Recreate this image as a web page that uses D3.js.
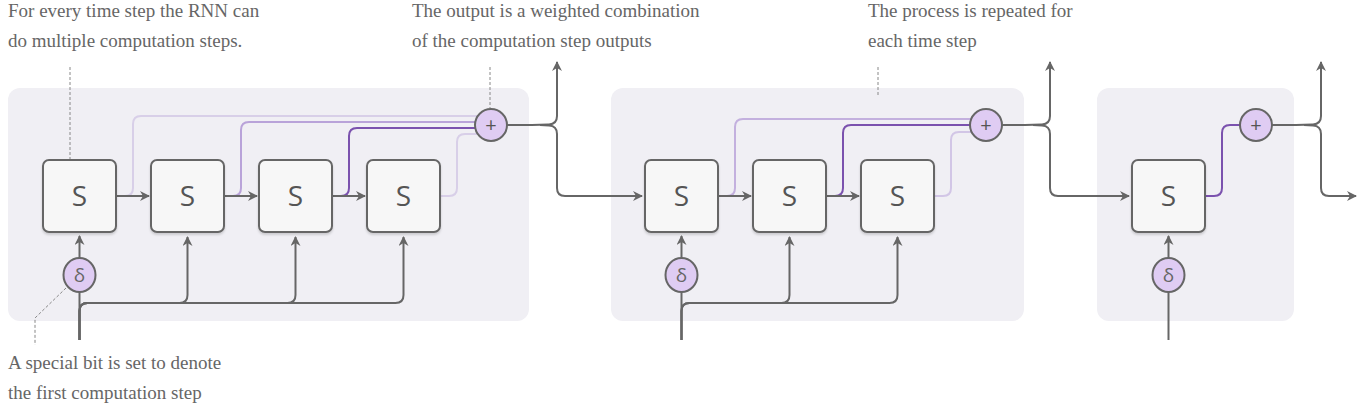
<!DOCTYPE html>
<html><head><meta charset="utf-8">
<script src="https://cdn.jsdelivr.net/npm/d3@7"></script>
<style>body{margin:0;background:#fff}text{font-family:"Liberation Serif",serif}</style>
</head><body><svg id="svg" width="1360" height="406"></svg>
<script>
// diagram data
const groupSteps = [4, 3, 1];
const groupStart = [43, 645, 1132];          // left of first S box
const groupBg = [[8, 529], [611, 1024], [1097, 1294]];
const plusX = [491, 986, 1256];
const outX = [557, 1050, 1321];
const weightCol = [["#d8cfe8", "#b9a3d9", "#7b52ae", "#d8cfe8"], ["#c3b0de", "#7b52ae", "#d2c6e6"], ["#7b52ae"]];
const weightY = [[116, 122, 128, 134], [119, 125, 132], [125]];
const notes = [
  {x: 8, lines: ["For every time step the RNN can", "do multiple computation steps."], y: 17},
  {x: 412, lines: ["The output is a weighted combination", "of the computation step outputs"], y: 17},
  {x: 868, lines: ["The process is repeated for", "each time step"], y: 17},
  {x: 8, lines: ["A special bit is set to denote", "the first computation step"], y: 369}
];

const svg = d3.select("#svg");
const grey = "#666";
const defs = svg.append("defs");
defs.append("marker").attr("id", "ar").attr("viewBox", "0 0 10 10").attr("refX", 9).attr("refY", 5)
  .attr("markerWidth", 5).attr("markerHeight", 5).attr("orient", "auto")
  .append("path").attr("d", "M0,0L10,5L0,10L3,5Z").attr("fill", grey);
const f = defs.append("filter").attr("id", "sh").attr("x", "-20%").attr("y", "-20%").attr("width", "140%").attr("height", "150%");
f.append("feDropShadow").attr("dx", 0).attr("dy", 2).attr("stdDeviation", 1).attr("flood-color", "#000").attr("flood-opacity", 0.15);

const stepX = d3.scaleLinear().domain([0, 1]).range([0, 108]);
const BW = 73, BY = 160, BH = 72, CY = 196, R = 8;

// orthogonal path with rounded corners
function rpath(pts, r = R) {
  const p = d3.path();
  p.moveTo(pts[0][0], pts[0][1]);
  for (let i = 1; i < pts.length - 1; i++) {
    const [x0, y0] = pts[i - 1], [x1, y1] = pts[i], [x2, y2] = pts[i + 1];
    const d1 = Math.hypot(x1 - x0, y1 - y0), d2 = Math.hypot(x2 - x1, y2 - y1);
    const rr = Math.min(r, d1 / 2, d2 / 2);
    p.lineTo(x1 - (x1 - x0) / d1 * rr, y1 - (y1 - y0) / d1 * rr);
    p.quadraticCurveTo(x1, y1, x1 + (x2 - x1) / d2 * rr, y1 + (y2 - y1) / d2 * rr);
  }
  const l = pts[pts.length - 1]; p.lineTo(l[0], l[1]);
  return p.toString();
}
function line(pts, col = grey, w = 2, arrow = false) {
  svg.append("path").attr("d", rpath(pts)).attr("fill", "none").attr("stroke", col).attr("stroke-width", w)
    .attr("marker-end", arrow ? "url(#ar)" : null);
}

groupSteps.forEach((n, g) => {
  svg.append("rect").attr("x", groupBg[g][0]).attr("y", 88).attr("width", groupBg[g][1] - groupBg[g][0])
    .attr("height", 233).attr("rx", 12).attr("fill", "#f0eff4");
});

// dashed leaders
[[[70, 67], [70, 160]], [[490, 67], [490, 108]], [[878, 67], [878, 95]], [[66, 288], [35, 318], [35, 345]]].forEach(d =>
  svg.append("path").attr("d", d3.line()(d)).attr("fill", "none").attr("stroke", "#888").attr("stroke-width", 1).attr("stroke-dasharray", "3,2"));

groupSteps.forEach((n, g) => {
  const x0 = groupStart[g];
  const cx = i => x0 + stepX(i) + BW / 2;
  const dX = cx(0), py = 125;
  // weight lines to plus (draw lightest first)
  d3.range(n).sort((a, b) => (weightCol[g][a] === "#7b52ae") - (weightCol[g][b] === "#7b52ae")).forEach(i => {
    const xr = x0 + stepX(i) + BW, ux = xr + 17;
    line([[xr, CY], [ux, CY], [ux, weightY[g][i]], [plusX[g] - 5, weightY[g][i]]], weightCol[g][i], 2);
  });
  // inputs
  line([[dX, 340], [dX, 258]]);
  line([[dX, 258], [dX, BY + BH + 4]], grey, 2, true);
  for (let i = 1; i < n; i++) line([[dX, 340], [dX, 303], [cx(i), 303], [cx(i), BY + BH + 5]], grey, 2, true);
  // step arrows
  for (let i = 0; i < n - 1; i++) line([[x0 + stepX(i) + BW, CY], [x0 + stepX(i + 1) - 2, CY]], grey, 2, true);
  // output
  const ox = outX[g], bx = ox - 17;
  line([[plusX[g] + 16, py], [bx, py], [ox, py - 1], [ox, 62]].map((p, k) => p), grey, 2, true);
  const nx = g < 2 ? groupStart[g + 1] - 3 : 1356;
  line([[bx, py], [ox, py + 1], [ox, CY], [nx, CY]], grey, 2, true);
  // boxes
  d3.range(n).forEach(i => {
    const bxp = x0 + stepX(i);
    svg.append("rect").attr("x", bxp).attr("y", BY).attr("width", BW).attr("height", BH).attr("rx", 6)
      .attr("fill", "#f7f7f7").attr("stroke", grey).attr("stroke-width", 2).attr("filter", "url(#sh)");
    svg.append("text").attr("x", bxp + BW / 2).attr("y", CY + 10).attr("text-anchor", "middle")
      .style("font-family", "'Open Sans',sans-serif").attr("font-size", 28).attr("fill", "#555").text("S");
  });
  // delta & plus
  svg.append("ellipse").attr("cx", dX).attr("cy", 275).attr("rx", 16).attr("ry", 17).attr("fill", "#dfccf3").attr("stroke", grey).attr("stroke-width", 2);
  svg.append("text").attr("x", dX).attr("y", 282).attr("text-anchor", "middle").style("font-family", "'Open Sans',sans-serif").attr("font-size", 19).attr("fill", "#666").text("δ");
  svg.append("circle").attr("cx", plusX[g]).attr("cy", py).attr("r", 16).attr("fill", "#dfccf3").attr("stroke", grey).attr("stroke-width", 2);
  svg.append("text").attr("x", plusX[g]).attr("y", py + 7).attr("text-anchor", "middle").style("font-family", "'Open Sans',sans-serif").attr("font-size", 20).attr("fill", "#555").text("+");
});

notes.forEach(nt => nt.lines.forEach((l, k) =>
  svg.append("text").attr("x", nt.x).attr("y", nt.y + k * 30).attr("font-size", 19).attr("fill", "#666").text(l)));
</script></body></html>
